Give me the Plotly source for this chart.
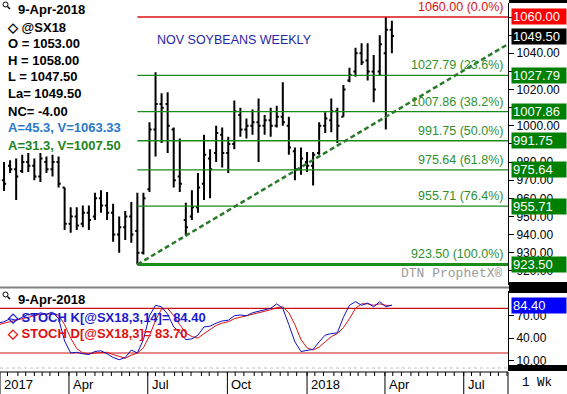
import plotly.graph_objects as go
import pandas as pd

# ---------------- data ----------------
dates = pd.date_range("2017-01-09", periods=66, freq="7D")
highs = [975, 980, 981, 982, 984, 985, 982, 985, 983, 984, 983, 966, 955, 955, 956, 956,
         963, 964.5, 963.5, 957, 950, 953, 958, 963, 963, 1002, 1029.5, 1018, 1018.5, 999,
         993, 957.5, 964.5, 974, 995, 987, 1000, 999, 994, 1014, 1010, 1004, 1009, 1015,
         1006, 1010, 1011, 1024, 1005, 988, 988, 985.5, 985.5, 1002, 1007.5, 1015, 1010,
         1022.5, 1032, 1043, 1045.5, 1045.5, 1039, 1050, 1060, 1058]
lows = [953, 964, 974, 959, 974, 974.5, 970, 969, 974, 972, 966, 942.5, 941, 942.5, 944,
        942.5, 948, 952, 948, 936, 930, 937, 935.5, 923.5, 929, 963.5, 983, 990.5, 985,
        966, 963.5, 939.5, 948, 952, 959, 960, 980, 977, 974, 987, 994, 993, 995, 980, 995,
        994, 999, 1000, 984, 970, 973, 974.5, 967, 984, 996, 996.5, 990.5, 1005, 1024, 1027,
        1033.5, 1025, 1013, 1028, 998, 1040]
opens = [958, 970, 978, 976, 975, 980, 978, 972, 980, 976, 980, 966, 946, 950, 946, 952,
         950, 960, 956, 952, 940, 944, 950, 942, 930, 965, 998, 1012, 1012, 998, 972, 948,
         950, 955, 968, 982, 985, 995, 985, 990, 1006, 998, 1000, 1002, 1000, 1003, 1000,
         1005, 1000, 986, 976, 980, 978, 985, 1000, 1003, 1008, 1005, 1025, 1030, 1040,
         1036, 1030, 1030, 1040, 1053]
closes = [970, 968, 976, 972, 980, 978, 972, 982, 976, 980, 968, 946, 950, 945, 952, 948,
          960, 956, 952, 940, 944, 950, 940, 930, 960, 998, 1012, 1010, 1000, 970, 968, 944,
          955, 966, 984, 976, 996, 985, 990, 1008, 998, 1000, 1002, 1000, 1003, 1000, 1005,
          1002, 988, 976, 982, 978, 984, 1000, 1004, 1008, 1000, 1020, 1028, 1040, 1035,
          1030, 1020, 1045, 1053, 1049.5]

stoch_k = [60, 62, 66, 64, 68, 72, 70, 74, 72, 75, 66, 36, 20, 21, 19, 18, 22, 23, 19, 14,
           11, 14, 24, 20, 38, 70, 84, 82, 72, 55, 48, 38, 39, 44, 55, 56, 60, 63, 64, 70,
           71, 70, 74, 76, 78, 80, 86, 80, 58, 35, 22, 24, 25, 35, 44, 46, 47, 68, 84, 89,
           84, 87, 82, 89, 82, 84.4]
stoch_d = [58, 60, 63, 64, 66, 68, 70, 72, 72, 73, 71, 58, 40, 26, 20, 19, 20, 21, 21, 18,
           15, 13, 17, 20, 27, 43, 64, 79, 80, 70, 58, 47, 42, 40, 46, 52, 57, 60, 62, 66,
           68, 70, 72, 73, 76, 78, 81, 82, 74, 58, 38, 27, 24, 28, 35, 42, 46, 54, 66, 80,
           86, 86, 84, 86, 84, 83.7]

fib_levels = [1060.00, 1027.79, 1007.86, 991.75, 975.64, 955.71, 923.50]
fib_pcts = ["0.0%", "23.6%", "38.2%", "50.0%", "61.8%", "76.4%", "100.0%"]
fib_start = "2017-06-19"
trend_x = ["2017-06-19", "2018-08-21"]
trend_y = [923.5, 1045.0]
last_price = 1049.50
info_open, info_high, info_low, info_last, info_nc = 1053.00, 1058.00, 1047.50, 1049.50, -4.00
stoch_levels = [80, 20]
price_ticks = list(range(920, 1061, 10))
hidden_price_ticks = [1060, 1050, 1030, 1010, 990]
stoch_ticks = [10, 40, 70]
quarter_dates = ["2017-01-01", "2017-04-01", "2017-07-01", "2017-10-01",
                 "2018-01-01", "2018-04-01", "2018-07-01"]
quarter_labels = ["2017", "Apr", "Jul", "Oct", "2018", "Apr", "Jul"]

# ---------------- geometry ----------------
W, H = 567, 394
X0 = pd.Timestamp("2017-01-11 08:00")
X1 = pd.Timestamp("2018-08-21 03:00")
PX = 508


def py(ypx):
    return 1 - ypx / H


def pxx(xpx):
    return xpx / W


FONT = "Liberation Sans, Arial, sans-serif"
GREEN_LINE = "#1a8c1a"
GREEN_TXT = "#2f8f2f"
RED = "#dd1111"

fig = go.Figure()

# fib lines
for lvl in fib_levels:
    col = RED if lvl == fib_levels[0] else GREEN_LINE
    wid = 3 if lvl == fib_levels[-1] else 1.3
    fig.add_trace(go.Scatter(x=[fib_start, X1], y=[lvl, lvl], mode="lines",
                             line=dict(color=col, width=wid), hoverinfo="skip",
                             showlegend=False, xaxis="x", yaxis="y"))

# trend line
fig.add_trace(go.Scatter(x=trend_x, y=trend_y, mode="lines",
                         line=dict(color="#2a7a2a", width=2.5, dash="5px,3px"),
                         showlegend=False, xaxis="x", yaxis="y"))

# OHLC bars
fig.add_trace(go.Ohlc(x=dates, open=opens, high=highs, low=lows, close=closes,
                      increasing=dict(line=dict(color="black", width=2)),
                      decreasing=dict(line=dict(color="black", width=2)),
                      tickwidth=0.35, showlegend=False, xaxis="x", yaxis="y"))

# stochastic
for lvl in stoch_levels:
    fig.add_trace(go.Scatter(x=[X0, X1], y=[lvl, lvl], mode="lines",
                             line=dict(color="#cc1111", width=1.2),
                             showlegend=False, xaxis="x2", yaxis="y2"))
fig.add_trace(go.Scatter(x=dates, y=stoch_d, mode="lines",
                         line=dict(color="#e01010", width=1), showlegend=False,
                         xaxis="x2", yaxis="y2"))
fig.add_trace(go.Scatter(x=dates, y=stoch_k, mode="lines",
                         line=dict(color="#1010c0", width=1), showlegend=False,
                         xaxis="x2", yaxis="y2"))

ytop, ybot = 3, 285
p_hi = 1060 + (17 - ytop) / 1.813
p_lo = 1060 - (ybot - 17) / 1.813
s_top, s_bot = 291, 371
s_hi = 80 + (308.3 - s_top) / 0.745
s_lo = 80 - (s_bot - 308.3) / 0.745

axfont = dict(family=FONT, size=12, color="black")
fig.update_layout(
    width=W, height=H, margin=dict(l=0, r=0, t=0, b=0),
    paper_bgcolor="white", plot_bgcolor="white",
    xaxis=dict(domain=[0, PX / W], range=[X0, X1], visible=False,
               rangeslider=dict(visible=False), anchor="y"),
    xaxis2=dict(domain=[0, PX / W], range=[X0, X1], visible=False, anchor="y2",
                matches="x"),
    yaxis=dict(domain=[py(ybot), py(ytop)], range=[p_lo, p_hi], side="right",
               anchor="x", tickvals=price_ticks,
               ticktext=["" if v in hidden_price_ticks else f"{v:.2f}" for v in price_ticks],
               ticks="outside",
               ticklen=5, tickcolor="black", showline=True, linecolor="black",
               showgrid=False, zeroline=False, tickfont=axfont),
    yaxis2=dict(domain=[py(s_bot), py(s_top)], range=[s_lo, s_hi], side="right",
                anchor="x2", tickvals=stoch_ticks,
                ticktext=[f"{v:.2f}" for v in stoch_ticks], ticks="outside",
                ticklen=5, tickcolor="black", showline=True, linecolor="black",
                showgrid=False, zeroline=False, tickfont=axfont),
)

ann = []
shapes = []


def txt(x, y, s, color="black", size=13, bold=True, anchor="left", family=FONT):
    t = f"<b>{s}</b>" if bold else s
    ann.append(dict(x=pxx(x), y=py(y), xref="paper", yref="paper", text=t,
                    showarrow=False, xanchor=anchor, yanchor="middle",
                    font=dict(family=family, size=size, color=color)))


# info block
txt(16, 9, "9-Apr-2018")
txt(5, 27, "◇ @SX18")
txt(6, 43, f"O = {info_open:.2f}")
txt(6, 60, f"H = {info_high:.2f}")
txt(6, 77, f"L = {info_low:.2f}")
txt(6, 94, f"La= {info_last:.2f}")
txt(6, 111, f"NC= {info_nc:.2f}")
txt(6, 128, "A=45.3, V=1063.33", color="#2a78c8")
txt(6, 145, "A=31.3, V=1007.50", color="#238423")
txt(155, 40, "NOV SOYBEANS WEEKLY", color="#2626a8", size=12.5, bold=False)
txt(505, 273, "DTN ProphetX®", color="#9a9a9a", size=13, bold=False, anchor="right",
    family="Liberation Mono, Courier New, monospace")

# magnifier icons
for yy in (2, 292):
    shapes.append(dict(type="circle", xref="paper", yref="paper", x0=pxx(3), x1=pxx(8),
                       y0=py(yy + 5), y1=py(yy), line=dict(color="black", width=1)))
    shapes.append(dict(type="line", xref="paper", yref="paper", x0=pxx(7.5), x1=pxx(10),
                       y0=py(yy + 4.5), y1=py(yy + 7), line=dict(color="black", width=1.5)))

# stoch texts
txt(16, 299, "9-Apr-2018")
txt(5, 317, f"◇ STOCH K[@SX18,3,14]= {stoch_k[-1]:.2f}", color="#1a1ad0")
txt(5, 333, f"◇ STOCH D[@SX18,3]= {stoch_d[-1]:.2f}", color="#e01010")

# fib labels
for lvl, pct in zip(fib_levels, fib_pcts):
    col = RED if lvl == fib_levels[0] else GREEN_TXT
    ann.append(dict(x=pxx(505), y=lvl, xref="paper", yref="y",
                    text=f"{lvl:.2f} ({pct})", showarrow=False, xanchor="right",
                    yanchor="bottom", yshift=1,
                    font=dict(family=FONT, size=12.5, color=col)))


def box(y, yref, s, bg):
    ann.append(dict(x=pxx(510.5), y=y, xref="paper", yref=yref, text=s,
                    showarrow=False, xanchor="left", yanchor="middle", align="left",
                    width=52, height=13, borderpad=1, bgcolor=bg,
                    font=dict(family=FONT, size=13, color="white")))


for lvl in fib_levels:
    box(lvl, "y", f"{lvl:.2f}", "#ff0000" if lvl == fib_levels[0] else "#008000")
box(last_price, "y", f"{last_price:.2f}", "#000000")
box(stoch_k[-1], "y2", f"{stoch_k[-1]:.2f}", "#0000ff")

# panel frames
shapes.append(dict(type="rect", xref="paper", yref="paper", x0=pxx(509), x1=1,
                   y0=py(3), y1=1, fillcolor="black", line=dict(width=0)))
shapes.append(dict(type="rect", xref="paper", yref="paper", x0=pxx(509), x1=1,
                   y0=py(293), y1=py(282), fillcolor="black", line=dict(width=0)))
shapes.append(dict(type="line", xref="paper", yref="paper", x0=0, x1=pxx(509),
                   y0=py(287.5), y1=py(287.5), line=dict(color="#808080", width=2)))
shapes.append(dict(type="rect", xref="paper", yref="paper", x0=pxx(509), x1=1,
                   y0=py(371), y1=py(365), fillcolor="black", line=dict(width=0)))
shapes.append(dict(type="line", xref="paper", yref="paper", x0=0, x1=pxx(508),
                   y0=py(368), y1=py(368), line=dict(color="#c0c0c0", width=1, dash="3px,3px")))
shapes.append(dict(type="line", xref="paper", yref="paper", x0=0, x1=pxx(508),
                   y0=py(372), y1=py(372), line=dict(color="black", width=1)))
shapes.append(dict(type="line", xref="paper", yref="paper", x0=pxx(508), x1=pxx(508),
                   y0=py(372), y1=0, line=dict(color="black", width=1)))
txt(537, 383, "1 Wk", size=12.5, bold=False, anchor="center",
    family="Liberation Mono, Courier New, monospace")

# date axis ticks
minor = []
for d in pd.date_range("2017-01-01", "2018-08-31", freq="D"):
    if d.day in (1, 10, 20) and X0 <= d <= X1:
        minor.append(d)
for d in minor:
    shapes.append(dict(type="line", xref="x2", yref="paper", x0=d, x1=d,
                       y0=py(372), y1=py(376), line=dict(color="black", width=1)))
for d, lab in zip(quarter_dates, quarter_labels):
    dd = max(pd.Timestamp(d), X0)
    shapes.append(dict(type="line", xref="x2", yref="paper", x0=dd, x1=dd,
                       y0=py(372), y1=0, line=dict(color="black", width=1)))
    ann.append(dict(x=dd, y=py(384), xref="x2", yref="paper", text=lab,
                    showarrow=False, xanchor="left", yanchor="middle", xshift=2,
                    font=dict(family=FONT, size=13, color="black")))

fig.update_layout(annotations=ann, shapes=shapes)
fig.write_html("out.html")
